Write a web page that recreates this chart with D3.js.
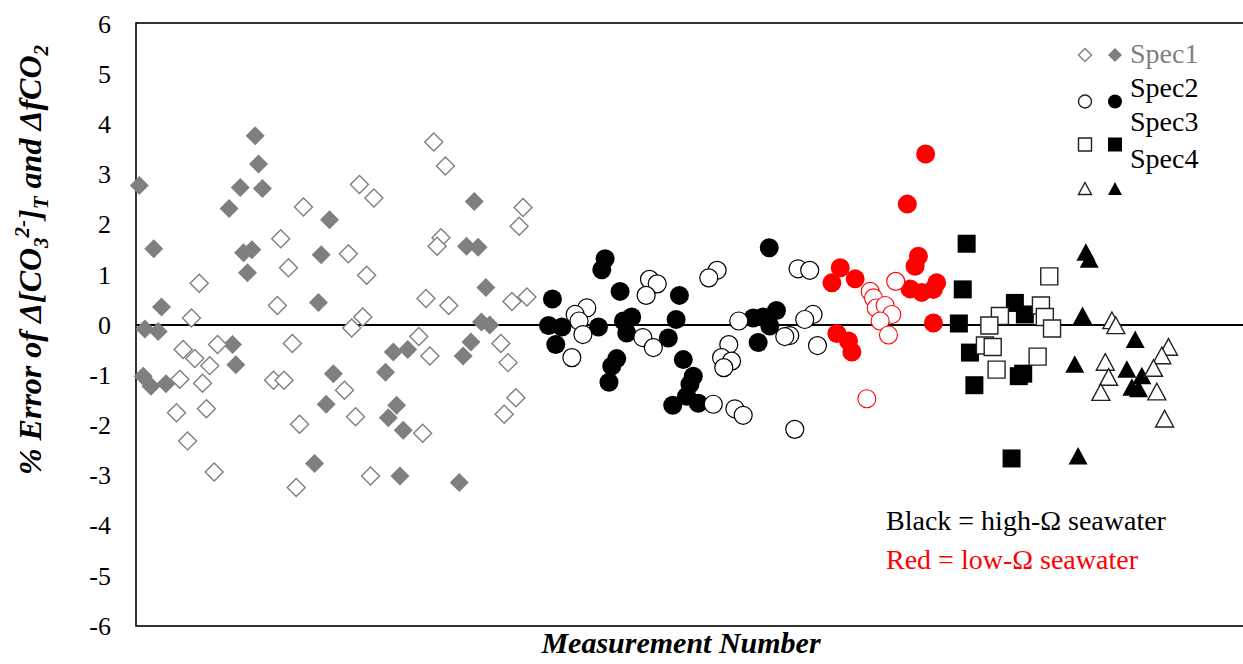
<!DOCTYPE html>
<html>
<head>
<meta charset="utf-8">
<script src="https://cdn.jsdelivr.net/npm/d3@7"></script>
<style>
  body { margin: 0; background: #fff; }
  svg { display: block; font-family: "Liberation Serif", "Times New Roman", serif; }
</style>
</head>
<body>
<div id="chart"></div>
<script>
// y axis ticks
var yTicks = [-6, -5, -4, -3, -2, -1, 0, 1, 2, 3, 4, 5, 6];

var spec1Filled = [[21.5,3.77],[22.1,3.21],[0.6,2.78],[18.8,2.74],[22.8,2.72],[16.8,2.32],[3.2,1.52],[19.4,1.44],[20.9,1.50],
  [34.9,2.10],[33.4,1.40],[20.1,1.04],[4.6,0.36],[32.9,0.45],[1.6,-0.08],[4.0,-0.13],[17.4,-0.39],[18.0,-0.79],[1.3,-1.02],
  [2.7,-1.22],[5.4,-1.17],[35.6,-0.97],[34.3,-1.58],[32.2,-2.76],[61.0,2.46],[59.6,1.57],[61.7,1.55],[63.1,0.75],[62.3,0.06],
  [63.8,0.00],[60.4,-0.34],[59.0,-0.62],[46.4,-0.54],[49.0,-0.49],[45.0,-0.94],[47.0,-1.60],[45.5,-1.85],[48.2,-2.10],
  [47.6,-3.01],[58.3,-3.14]];
var spec1Open = [[30.2,2.35],[26.1,1.72],[27.5,1.14],[11.4,0.83],[25.5,0.39],[10.0,0.14],[8.5,-0.49],[10.6,-0.67],[14.7,-0.39],
  [13.3,-0.81],[28.2,-0.37],[7.9,-1.08],[12.0,-1.16],[24.8,-1.10],[26.7,-1.10],[7.3,-1.75],[12.7,-1.67],[29.5,-1.98],[9.3,-2.31],
  [14.1,-2.93],[28.9,-3.24],[53.7,3.65],[55.8,3.17],[40.3,2.80],[42.9,2.53],[69.8,2.34],[69.1,1.97],[55.0,1.74],[54.3,1.57],
  [38.3,1.42],[41.6,0.99],[52.3,0.53],[56.4,0.39],[67.8,0.47],[70.5,0.56],[40.9,0.16],[38.9,-0.06],[51.0,-0.23],[53.0,-0.62],
  [65.8,-0.37],[67.1,-0.75],[37.6,-1.30],[39.6,-1.83],[51.7,-2.16],[68.5,-1.45],[66.4,-1.78],[42.3,-3.01]];
var spec2Filled = [[114.2,1.54],[84.6,1.32],[84.0,1.10],[87.3,0.67],[75.1,0.52],[98.0,0.59],[97.4,0.11],[74.4,-0.01],[76.8,-0.04],
  [75.7,-0.39],[83.4,-0.04],[87.9,0.08],[89.4,0.16],[88.5,-0.16],[96.0,-0.26],[98.7,-0.69],[86.7,-0.67],[85.8,-0.82],[85.3,-1.14],
  [100.5,-1.02],[99.9,-1.18],[96.8,-1.60],[99.3,-1.42],[101.4,-1.56],[111.3,0.14],[113.1,0.16],[115.5,0.29],[114.3,-0.02],[112.2,-0.35]];
var spec2Open = [[104.8,1.09],[103.3,0.94],[119.4,1.12],[121.5,1.09],[92.6,0.91],[94.0,0.82],[92.0,0.59],[81.3,0.34],[79.2,0.21],
  [79.9,0.08],[80.6,-0.19],[78.6,-0.65],[91.4,-0.25],[93.3,-0.45],[108.7,0.08],[106.9,-0.39],[105.6,-0.65],[107.4,-0.72],
  [106.0,-0.85],[104.1,-1.58],[108.0,-1.67],[109.5,-1.80],[118.8,-2.08],[122.1,0.21],[120.6,0.11],[117.9,-0.21],[117.0,-0.23],[122.9,-0.41]];
var lowFilled = [[142.4,3.41],[139.1,2.41],[141.1,1.37],[140.5,1.17],[139.6,0.72],[141.7,0.65],[144.4,0.84],[143.8,0.71],
  [127.0,1.14],[125.5,0.84],[129.7,0.92],[143.8,0.04],[126.4,-0.17],[128.5,-0.32],[129.1,-0.54]];
var lowOpen = [[137.0,0.87],[132.4,0.67],[133.0,0.54],[133.5,0.34],[135.1,0.39],[136.3,0.21],[134.2,0.08],[135.7,-0.20],[131.8,-1.47]];
var spec3Filled = [[149.8,1.62],[149.1,0.71],[148.4,0.03],[150.4,-0.55],[151.2,-1.20],[158.5,0.44],[160.3,0.21],[159.2,-1.02],
  [160.0,-0.97],[157.9,-2.66]];
var spec3Open = [[164.7,0.97],[155.8,0.18],[153.9,-0.01],[163.2,0.39],[163.9,0.16],[165.2,-0.07],[153.1,-0.41],[154.5,-0.44],
  [162.6,-0.63],[155.2,-0.89]];
var spec4Filled = [[171.3,1.44],[171.9,1.30],[170.7,0.18],[180.2,-0.30],[169.3,-0.79],[178.7,-0.89],[181.4,-1.02],[179.6,-1.25],
  [180.8,-1.28],[169.9,-2.62]];
var spec4Open = [[176.0,0.08],[176.7,-0.02],[186.2,-0.45],[185.0,-0.62],[174.8,-0.75],[175.4,-1.05],[174.0,-1.35],[183.5,-0.87],
  [184.1,-1.34],[185.5,-1.88]];

var legendNames = ["Spec1", "Spec2", "Spec3", "Spec4"];

var W = 1243, H = 664;
var plotLeft = 136, plotTop = 23, plotBottom = 626;

var svg = d3.select("#chart").append("svg")
    .attr("width", W).attr("height", H);

var x = d3.scaleLinear().domain([0, 200]).range([plotLeft, 1245]);
var y = d3.scaleLinear().domain([-6, 6]).range([plotBottom, plotTop + 1]);

// marker shapes, r = half size
function shape(kind, r) {
    if (kind == "diamond") return "M0," + (-r) + "L" + r + ",0L0," + r + "L" + (-r) + ",0Z";
    if (kind == "square") return "M" + (-r) + "," + (-r) + "h" + (2 * r) + "v" + (2 * r) + "h" + (-2 * r) + "Z";
    if (kind == "triangle") return "M0," + (-r) + "L" + r + "," + (0.85 * r) + "L" + (-r) + "," + (0.85 * r) + "Z";
    var p = d3.path(); p.arc(0, 0, r, 0, 2 * Math.PI); p.closePath(); return p.toString();
}

var grey = "#7f7f7f";
var series = [
    { data: spec1Filled, kind: "diamond", r: 9.5, fill: grey, stroke: "none", sw: 0 },
    { data: spec1Open, kind: "diamond", r: 9, fill: "#fff", stroke: grey, sw: 1.4 },
    { data: spec2Filled, kind: "circle", r: 9.5, fill: "#000", stroke: "none", sw: 0 },
    { data: spec2Open, kind: "circle", r: 9, fill: "#fff", stroke: "#000", sw: 1.2 },
    { data: lowFilled, kind: "circle", r: 9.5, fill: "#ff0000", stroke: "none", sw: 0 },
    { data: lowOpen, kind: "circle", r: 9, fill: "#fff", stroke: "#ff0000", sw: 1.1 },
    { data: spec3Filled, kind: "square", r: 9, fill: "#000", stroke: "none", sw: 0 },
    { data: spec3Open, kind: "square", r: 8.5, fill: "#fff", stroke: "#222", sw: 1.4 },
    { data: spec4Filled, kind: "triangle", r: 9.5, fill: "#000", stroke: "none", sw: 0 },
    { data: spec4Open, kind: "triangle", r: 9, fill: "#fff", stroke: "#222", sw: 1.4 }
];

// frame
svg.append("rect")
    .attr("x", plotLeft).attr("y", plotTop)
    .attr("width", W + 10 - plotLeft).attr("height", plotBottom - plotTop)
    .attr("fill", "none").attr("stroke", "#000").attr("stroke-width", 1.6);

// y tick labels (plain hyphen for negatives, as in the original)
var yAxis = svg.append("g")
    .attr("transform", "translate(" + plotLeft + ",0)")
    .call(d3.axisLeft(y).tickValues(yTicks).tickSize(0).tickPadding(25)
        .tickFormat(function (d) { return String(d); }));
yAxis.select(".domain").remove();
yAxis.selectAll("text")
    .attr("font-family", "'Liberation Serif', 'Times New Roman', serif")
    .attr("font-size", 26).attr("fill", "#000");

// zero line
svg.append("line")
    .attr("x1", plotLeft).attr("x2", W)
    .attr("y1", y(0)).attr("y2", y(0))
    .attr("stroke", "#000").attr("stroke-width", 2);

// points
series.forEach(function (s) {
    svg.append("g").selectAll("path")
        .data(s.data)
        .enter().append("path")
        .attr("transform", function (d) { return "translate(" + x(d[0]) + "," + y(d[1]) + ")"; })
        .attr("d", shape(s.kind, s.r))
        .attr("fill", s.fill)
        .attr("stroke", s.stroke)
        .attr("stroke-width", s.sw);
});

// legend (Excel style, labels a bit off the markers)
var legKinds = ["diamond", "circle", "square", "triangle"];
var legRowY = [55, 101.5, 144.5, 189];
var legTextY = [63, 97, 131, 168];
var legColor = [grey, "#000", "#000", "#000"];
legKinds.forEach(function (k, i) {
    svg.append("path").attr("transform", "translate(1085," + legRowY[i] + ")")
        .attr("d", shape(k, 6.5)).attr("fill", "#fff")
        .attr("stroke", i == 0 ? grey : "#222").attr("stroke-width", 1.4);
    svg.append("path").attr("transform", "translate(1115," + legRowY[i] + ")")
        .attr("d", shape(k, 7)).attr("fill", i == 0 ? grey : "#000");
    svg.append("text").attr("x", 1130).attr("y", legTextY[i])
        .attr("font-size", 28).attr("fill", legColor[i])
        .text(legendNames[i]);
});

// note
svg.append("text").attr("x", 886).attr("y", 530).attr("font-size", 28).attr("fill", "#000")
    .text("Black = high-\u03A9 seawater");
svg.append("text").attr("x", 886).attr("y", 569).attr("font-size", 28).attr("fill", "#ff0000")
    .text("Red = low-\u03A9 seawater");

// axis titles
svg.append("text")
    .attr("x", 681).attr("y", 653)
    .attr("text-anchor", "middle")
    .attr("font-size", 30).attr("font-weight", "bold").attr("font-style", "italic")
    .text("Measurement Number");

var yt = svg.append("text")
    .attr("transform", "translate(41,260) rotate(-90)")
    .attr("text-anchor", "middle")
    .attr("font-size", 32).attr("font-weight", "bold").attr("font-style", "italic");
yt.append("tspan").text("% Error of \u0394[CO");
yt.append("tspan").attr("dy", 7).attr("font-size", 21).text("3");
yt.append("tspan").attr("dy", -19).attr("font-size", 21).text("2-");
yt.append("tspan").attr("dy", 12).text("]");
yt.append("tspan").attr("dy", 7).attr("font-size", 21).text("T");
yt.append("tspan").attr("dy", -7).text(" and \u0394fCO");
yt.append("tspan").attr("dy", 7).attr("font-size", 21).text("2");
</script>
</body>
</html>
